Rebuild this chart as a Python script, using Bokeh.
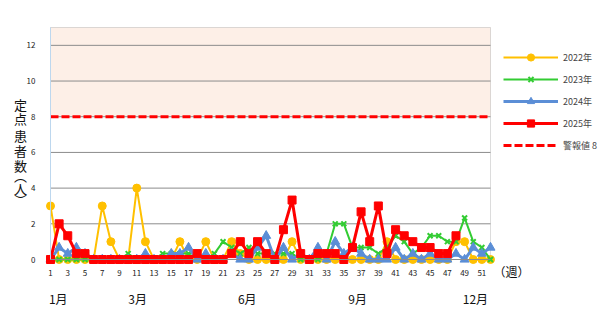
from bokeh.plotting import figure
from bokeh.models import BoxAnnotation, Legend, LegendItem, Label, FixedTicker, Range1d, ColumnDataSource
from bokeh.embed import file_html
from bokeh.resources import INLINE

# ---------------- data ----------------
weeks = list(range(1, 53))
cases_2022 = [3, 0, 0, 0, 0, 0, 3, 1, 0, 0,
              4, 1, 0, 0, 0, 1, 0, 0, 1, 0,
              0, 1, 0.33, 0, 0, 0, 0, 0, 1, 0,
              0, 0, 0, 0, 0, 0, 0, 0, 0, 1,
              0, 0, 0, 0, 0, 0, 0, 1, 1, 0,
              0, 0]
cases_2023 = [0, 0, 0, 0, 0, 0, 0, 0, 0, 0.33,
              0, 0, 0, 0.33, 0.33, 0.33, 0.33, 0.33, 0, 0.33,
              1, 0.67, 0.33, 0.67, 0.33, 0.33, 0.33, 0.33, 0.33, 0,
              0, 0, 0.33, 2, 2, 0.67, 0.67, 0.67, 0.33, 0.67,
              1.33, 1, 0.33, 0.67, 1.33, 1.33, 1, 1, 2.33, 1,
              0.67, 0]
cases_2024 = [0, 0.67, 0.33, 0.67, 0.33, 0, 0, 0, 0, 0,
              0, 0.33, 0, 0, 0.33, 0.33, 0.67, 0, 0.33, 0,
              0, 0.33, 0, 0, 0.67, 1.33, 0, 0.67, 0, 0.33,
              0, 0.67, 0, 1, 0.33, 0.67, 0.33, 0, 0, 0,
              0.67, 0, 0.33, 0, 0.33, 0, 0, 0.33, 0, 0.67,
              0.33, 0.67]
cases_2025 = [0, 2, 1.33, 0.33, 0.33, 0, 0, 0, 0, 0,
              0, 0, 0, 0, 0, 0, 0, 0.33, 0, 0,
              0, 0.33, 1, 0.33, 1, 0.33, 0, 1.67, 3.33, 0.33,
              0, 0.33, 0.33, 0.33, 0, 0.67, 2.67, 1, 3, 0.33,
              1.67, 1.33, 1, 0.67, 0.67, 0.33, 0.33, 1.33]
alert_level = 8
y_max = 13
series_names = ["2022年", "2023年", "2024年", "2025年"]
alert_label = "警報値 8"
y_ticks = [0, 2, 4, 6, 8, 10, 12]
x_ticks = list(range(1, 52, 2))
month_labels = ["1月", "3月", "6月", "9月", "12月"]
month_weeks = [1.9, 11.1, 23.8, 36.6, 50.25]
y_title = "定点患者数︵人︶"
x_unit = "（週）"

# ---------------- layout (pixel geometry of the plot area) ----------------
W, H = 609, 312
FL, FR, FT, FB = 50, 490, 27, 259
w_first, w_last = weeks[0], weeks[-1]
sx = (FR - FL) / (w_last - w_first)
sy = (FB - FT) / y_max


def dx(px):
    return w_first + (px - FL) / sx


def dy(py):
    return (FB - py) / sy


JP = "Noto Sans CJK JP"
GRID = "#8c8c8c"

p = figure(width=W, height=H, x_range=Range1d(dx(0), dx(W)), y_range=Range1d(dy(H), dy(0)),
           output_backend="svg", toolbar_location=None,
           min_border=0, min_border_left=0, min_border_right=0,
           min_border_top=0, min_border_bottom=0)
p.background_fill_color = "white"
p.border_fill_color = "white"
p.outline_line_color = None
p.xgrid.visible = False
p.ygrid.visible = False

# alert zone and plot-area border
p.add_layout(BoxAnnotation(left=w_first, right=w_last, bottom=alert_level, top=y_max,
                           fill_color="#FDEFE7", fill_alpha=1, line_color=None, level="image"))
p.add_layout(BoxAnnotation(left=w_first, right=w_last, bottom=0, top=y_max,
                           fill_alpha=0, line_color=GRID, line_width=1, level="underlay"))

# horizontal grid lines
grid_vals = [t for t in y_ticks if t > 0]
p.segment(x0=[w_first] * len(grid_vals), x1=[w_last] * len(grid_vals),
          y0=grid_vals, y1=grid_vals, line_color=GRID, line_width=1)

# axes inside the canvas
p.xaxis.fixed_location = 0
p.xaxis.bounds = (w_first, w_last)
p.yaxis.fixed_location = w_first
p.yaxis.bounds = (0, y_max)
p.xaxis.ticker = FixedTicker(ticks=x_ticks)
p.yaxis.ticker = FixedTicker(ticks=y_ticks)
for ax in (p.xaxis, p.yaxis):
    ax.major_tick_line_color = None
    ax.minor_tick_line_color = None
    ax.major_label_text_font = JP
    ax.major_label_text_font_size = "8px"
    ax.major_label_text_color = "#222222"
p.xaxis.axis_line_color = GRID
p.yaxis.axis_line_color = "#BDD7EE"
p.xaxis.major_label_standoff = 4
p.yaxis.major_label_standoff = 9

# alert line
r_alert = p.line(x=[w_first, w_last], y=[alert_level, alert_level], line_color="#FF0000",
                 line_width=3, line_dash="8 3")

colors = ["#FFC000", "#33CC33", "#5B8ED6", "#FF0000"]
markers = ["circle", "x", "triangle", "square"]
msizes = [8, 7, 9, 8]
lwidths = [2, 2, 3, 3]
series = [cases_2022, cases_2023, cases_2024, cases_2025]

items = []
for name, data, c, m, ms, lw in zip(series_names, series, colors, markers, msizes, lwidths):
    src = ColumnDataSource(dict(w=weeks[:len(data)], v=data))
    rl = p.line("w", "v", source=src, line_color=c, line_width=lw)
    rm = p.scatter("w", "v", source=src, marker=m, size=ms, fill_color=c, line_color=c,
                   line_width=2 if m == "x" else 1)
    items.append(LegendItem(label=name, renderers=[rl, rm]))
items.append(LegendItem(label=alert_label, renderers=[r_alert]))

legend = Legend(items=items, location=(503, H - 154), orientation="vertical",
                glyph_width=55, glyph_height=18, label_height=18, spacing=4,
                label_standoff=5, padding=0, margin=0,
                label_text_font=JP, label_text_font_size="9px",
                border_line_color=None, background_fill_alpha=0)
p.add_layout(legend)

# y title (vertical, stacked characters)
char_y = [104, 118, 135, 150, 165, 175, 188, 199]
for ch, py in zip(y_title, char_y):
    p.add_layout(Label(x=dx(20), y=dy(py), text=ch, text_align="center", text_baseline="middle",
                       text_font=JP, text_font_size="13px", text_color="#111111"))

# month labels
for lab, w in zip(month_labels, month_weeks):
    p.add_layout(Label(x=w, y=dy(298), text=lab, text_align="center", text_baseline="middle",
                       text_font=JP, text_font_size="12px", text_color="#111111"))

# week unit
p.add_layout(Label(x=dx(511), y=dy(271), text=x_unit, text_align="center", text_baseline="middle",
                   text_font=JP, text_font_size="12px", text_color="#111111"))

open("out.html", "w").write(file_html(p, INLINE))
